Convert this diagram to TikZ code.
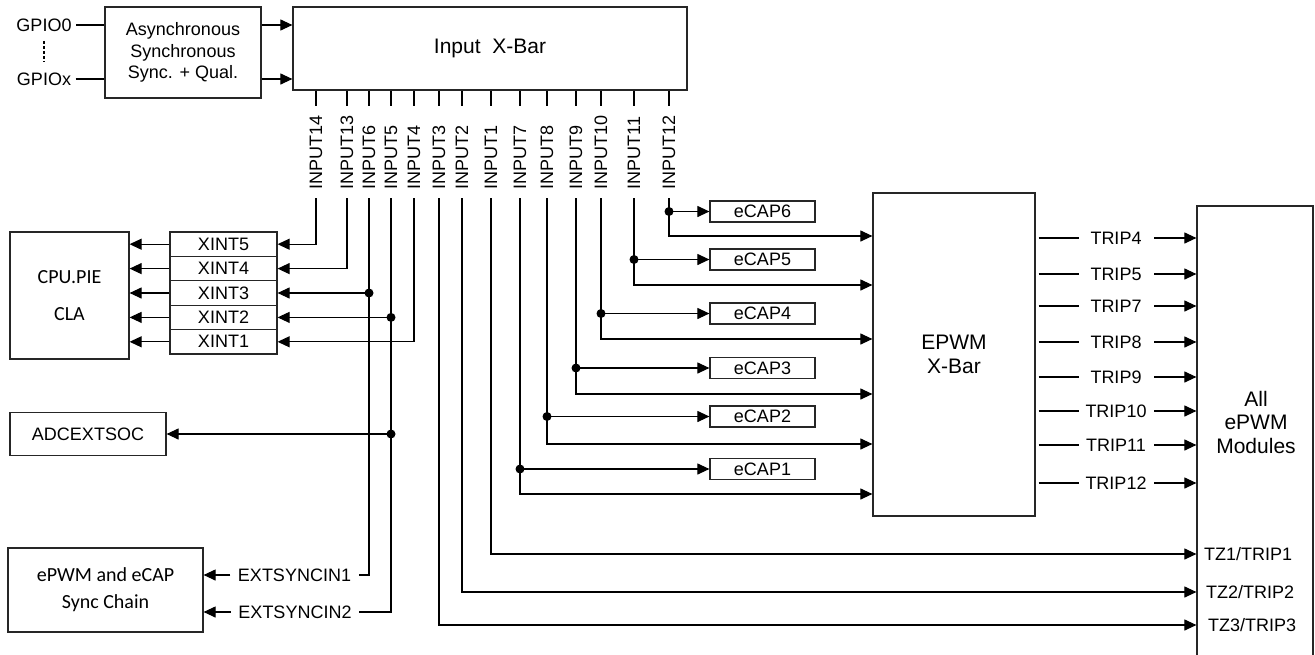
\documentclass[tikz,border=0pt]{standalone}
\usepackage{fontspec}
\setmainfont{Liberation Sans}
\newfontfamily\calfont{Carlito}
\usetikzlibrary{arrows.meta}

\tikzset{
  box/.style={draw=black!85, line width=1.2pt, rectangle, inner sep=0pt, align=center},
  xint/.style={box, minimum width=107pt, minimum height=24.4pt},
  ecap/.style={box, minimum width=105pt, minimum height=21pt},
  inlbl/.style={rotate=90, anchor=west, inner sep=0pt},
  trip/.style={fill=white, inner sep=0pt, minimum width=75pt, minimum height=16pt},
  dot/.style={radius=4.5pt}
}

\begin{document}
\begin{tikzpicture}[x=1pt,y=-1pt,>={Triangle[length=12pt,width=11pt]},line width=1.1pt,
  font=\fontsize{18}{21.5}\selectfont]
\useasboundingbox (0,0) rectangle (1315,654);

% GPIO side
\node[inner sep=4pt] (gpio0) at (44,25) {GPIO0};
\node[inner sep=4pt] (gpiox) at (44,79) {GPIOx};
\node[box, minimum width=156pt, minimum height=91pt] (async) at (183,52.5) {Asynchronous\\Synchronous\\Sync. + Qual.};
\node[box, minimum width=394pt, minimum height=83pt, font=\fontsize{21}{24}\selectfont] (ixbar) at (490,48.5) {Input\ \ X-Bar};

\draw (gpio0.east) -- (gpio0 -| async.west);
\draw (gpiox.east) -- (gpiox -| async.west);
\draw[dashed, dash pattern=on 3pt off 2pt, shorten <=5pt, shorten >=6pt] (gpio0.south) -- (gpiox.north);
\draw[->] (gpio0 -| async.east) -- (gpio0 -| ixbar.west);
\draw[->] (gpiox -| async.east) -- (gpiox -| ixbar.west);

% input x-bar outputs
\foreach \n/\cx in {14/316,13/347,6/369,5/391,4/414,3/439,2/462,1/491,7/520,8/547,9/576,10/601,11/634,12/669} {
  \coordinate (c\n) at (\cx,198);
  \node[inlbl] (in\n) at (\cx,190) {INPUT\n};
  \draw (ixbar.south -| c\n) -- ++(0,15);
}

% CPU side
\node[box, minimum width=119pt, minimum height=127pt, font=\calfont\fontsize{20}{24}\selectfont] (cpu) at (69.5,295.5) {CPU.PIE\\[13pt]CLA};
\node[xint] (xint5) at (223.5,244.2) {XINT5};
\node[xint] (xint4) at (223.5,268.6) {XINT4};
\node[xint] (xint3) at (223.5,293) {XINT3};
\node[xint] (xint2) at (223.5,317.4) {XINT2};
\node[xint] (xint1) at (223.5,341.8) {XINT1};
\node[box, minimum width=156pt, minimum height=43pt] (adc) at (88,434) {ADCEXTSOC};
\node[box, minimum width=195pt, minimum height=84pt, font=\calfont\fontsize{20}{27}\selectfont] (sync) at (105.5,590) {ePWM and eCAP\\Sync Chain};
\node[inner xsep=7pt, inner ysep=3pt] (es1) at (294.5,575) {EXTSYNCIN1};
\node[inner xsep=7pt, inner ysep=3pt] (es2) at (295,612) {EXTSYNCIN2};

\foreach \k in {1,...,5}
  \draw[->] (xint\k.west) -- (xint\k.west -| cpu.east);
\draw[->] (c14) |- (xint5.east);
\draw[->] (c13) |- (xint4.east);
\draw[->] (c4) |- (xint1.east);
\draw (c6) |- (es1.east);
\draw[->] (c6 |- xint3) -- (xint3.east);
\fill (c6 |- xint3) circle[dot];
\draw (c5) |- (es2.east);
\draw[->] (c5 |- xint2) -- (xint2.east);
\fill (c5 |- xint2) circle[dot];
\draw[->] (c5 |- adc) -- (adc.east);
\fill (c5 |- adc) circle[dot];
\draw[->] (es1.west) -- (es1.west -| sync.east);
\draw[->] (es2.west) -- (es2.west -| sync.east);

% eCAP and EPWM X-Bar
\node[box, minimum width=162pt, minimum height=323pt, font=\fontsize{21}{24}\selectfont] (epwm) at (954,354.5) {EPWM\\X-Bar};
\node[ecap] (ecap6) at (762.5,211.5) {eCAP6};
\node[ecap] (ecap5) at (762.5,259.5) {eCAP5};
\node[ecap] (ecap4) at (762.5,313.5) {eCAP4};
\node[ecap] (ecap3) at (762.5,368) {eCAP3};
\node[ecap] (ecap2) at (762.5,416.5) {eCAP2};
\node[ecap] (ecap1) at (762.5,469) {eCAP1};

\foreach \n/\k/\yb in {12/6/236,11/5/285,10/4/339,9/3/394,8/2/444,7/1/494} {
  \draw[->] (c\n |- ecap\k) -- (ecap\k.west);
  \fill (c\n |- ecap\k) circle[dot];
  \draw[->] (c\n) |- (epwm.west |- 0,\yb);
}

% ePWM modules
\node[box, minimum width=116pt, minimum height=464pt] (mods) at (1255,438) {};
\node[align=center, font=\fontsize{21}{23.5}\selectfont] (modtxt) at (1256,422) {All\\ePWM\\Modules};
\node (tz1) at (1248,554) {TZ1/TRIP1};
\node (tz2) at (1250,592) {TZ2/TRIP2};
\node (tz3) at (1252,625) {TZ3/TRIP3};

\foreach \t/\y in {4/238,5/274,7/306,8/342,9/377,10/411,11/445,12/483}
  \draw[->, shorten <=3pt] (epwm.east |- 0,\y) -- node[trip] (trip\t) {TRIP\t} (mods.west |- 0,\y);

\draw[->] (c1) |- (tz1.west -| mods.west);
\draw[->] (c2) |- (tz2.west -| mods.west);
\draw[->] (c3) |- (tz3.west -| mods.west);
\end{tikzpicture}
\end{document}
